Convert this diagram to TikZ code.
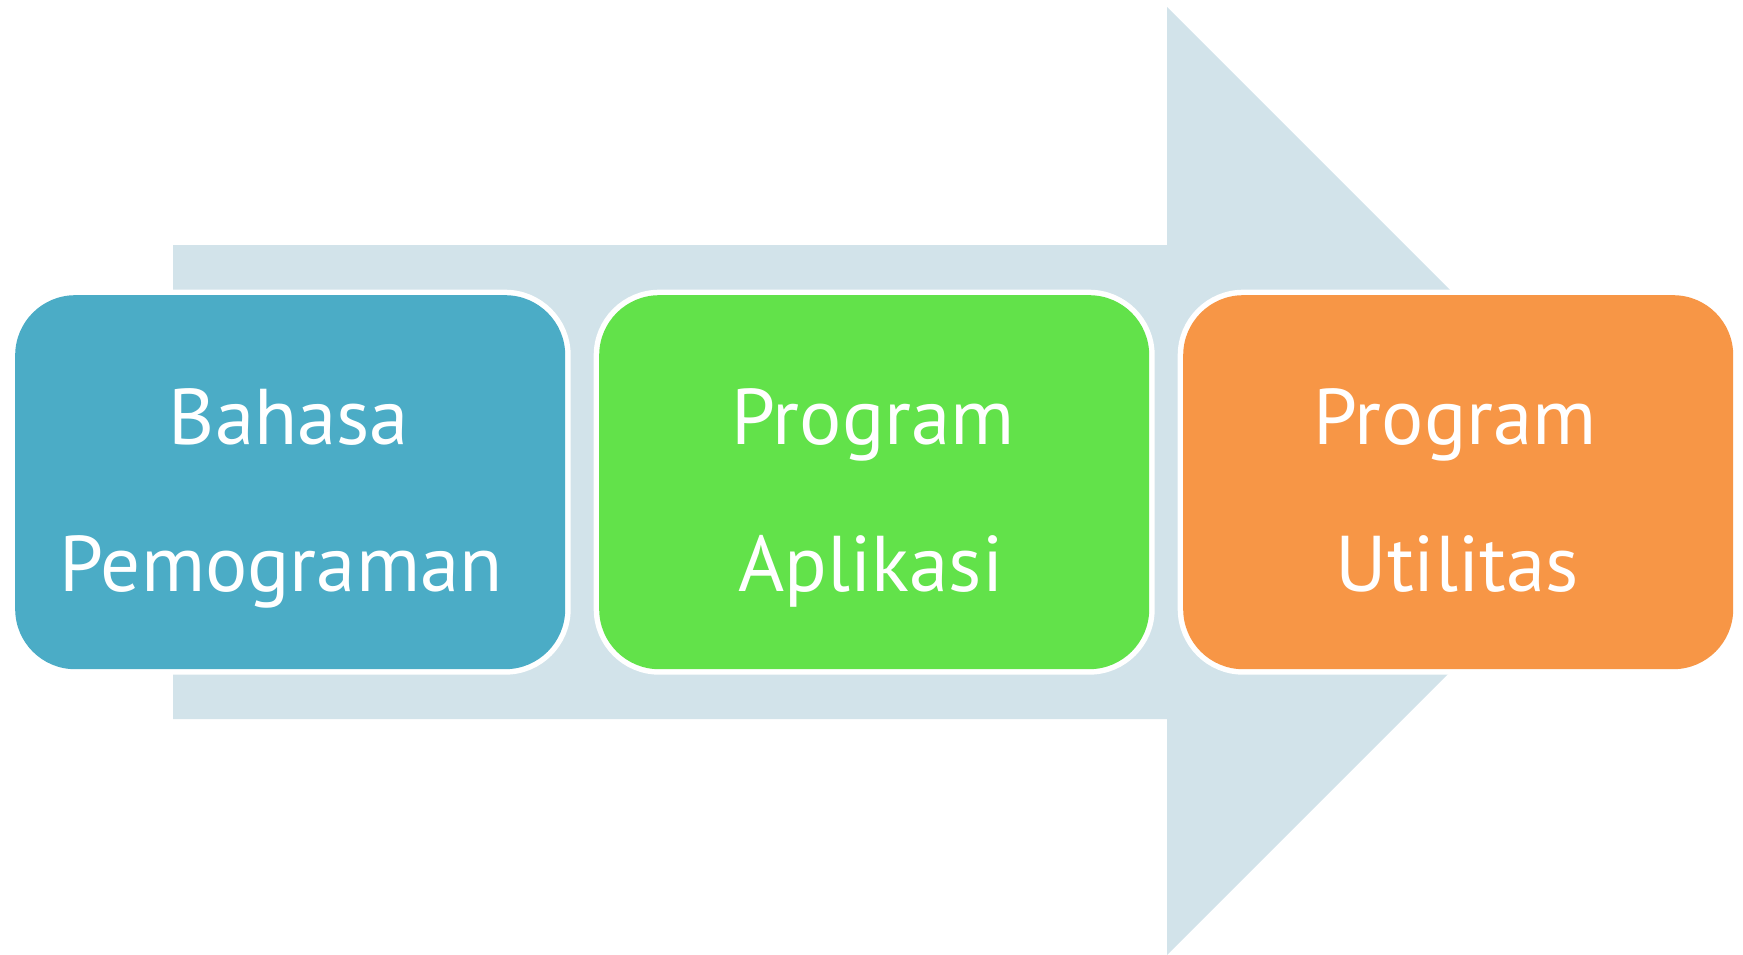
\documentclass[tikz,border=0pt]{standalone}
\usepackage{fontspec}
\setmainfont{PT Sans}
\definecolor{arrowc}{RGB}{210,227,234}
\definecolor{bluec}{RGB}{75,172,198}
\definecolor{greenc}{RGB}{98,226,74}
\definecolor{orangec}{RGB}{247,150,70}
\tikzset{
  stagebox/.style={rounded corners=60pt, minimum width=550pt, minimum height=374pt,
    inner sep=0pt, anchor=north west, preaction={draw=white, line width=11pt}},
  lbl/.style={anchor=base, text=white, inner sep=0pt, font=\fontsize{79}{95}\selectfont}
}
\begin{document}
\begin{tikzpicture}[x=1pt,y=-1pt]
\useasboundingbox (0,0) rectangle (1743,955);
\fill[arrowc] (173,245) -- (1167,245) -- (1167,7) -- (1641,481) -- (1167,955) -- (1167,719) -- (173,719) -- cycle;
\node[stagebox, fill=bluec] (b1) at (15,295) {};
\node[stagebox, fill=greenc] (b2) at (599,295) {};
\node[stagebox, fill=orangec] (b3) at (1183,295) {};
\node[lbl] (t1a) at (289,444) {Bahasa};
\node[lbl] (t1b) at (281,591) {Pemograman};
\node[lbl] (t2a) at (873,444) {Program};
\node[lbl] (t2b) at (871,591) {Aplikasi};
\node[lbl] (t3a) at (1455,444) {Program};
\node[lbl] (t3b) at (1457,591) {Utilitas};
\end{tikzpicture}
\end{document}
